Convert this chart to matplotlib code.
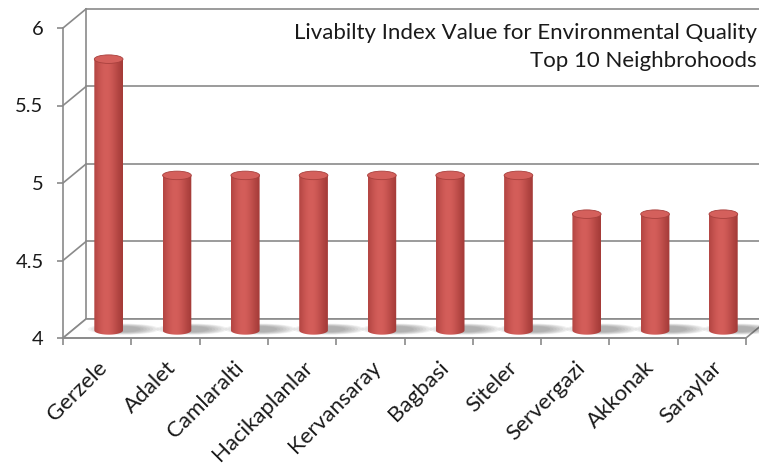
import numpy as np
import matplotlib
matplotlib.use("Agg")
import matplotlib.pyplot as plt
from matplotlib.patches import Ellipse, Polygon
from matplotlib.path import Path

plt.rcParams['font.family'] = ['Lato', 'DejaVu Sans']

# Livability index values, top 10 neighbourhoods
neighborhoods = ["Gerzele", "Adalet", "Camlaralti", "Hacikaplanlar", "Kervansaray",
                 "Bagbasi", "Siteler", "Servergazi", "Akkonak", "Saraylar"]
index_values = [5.75, 5.0, 5.0, 5.0, 5.0, 5.0, 5.0, 4.75, 4.75, 4.75]
y_ticks = [4, 4.5, 5, 5.5, 6]
title_lines = ["Livabilty Index Value for Environmental Quality", "Top 10 Neighbrohoods"]

W, H = 759, 471
fig = plt.figure(figsize=(W / 100, H / 100), dpi=100)
fig.patch.set_facecolor("white")
# front plane of the 3-D box: x 0..10 categories, y 4..6
ax = fig.add_axes([63 / W, (H - 338) / H, 683 / W, 310 / H])
ymin, ymax = 4, 6
n = len(neighborhoods)
ax.set_xlim(0, n)
ax.set_ylim(ymin, ymax)
ax.set_facecolor("none")

GRID = "#8a8a8a"
LW = 1.2
DX = 0.337    # depth offset in category units
DY = 0.1226   # depth offset in value units

# walls: back-wall gridlines, side-wall diagonals, back vertical edge
for v in y_ticks:
    ax.plot([DX, n + DX + 1], [v + DY, v + DY], color=GRID, lw=LW, clip_on=False, zorder=1)
    ax.plot([0, DX], [v, v + DY], color=GRID, lw=LW, clip_on=False, zorder=1)
ax.plot([DX, DX], [ymin + DY, ymax + DY], color=GRID, lw=LW, clip_on=False, zorder=1)

# floor
floor = Polygon([[0, ymin], [n, ymin], [n + DX, ymin + DY], [DX, ymin + DY]], closed=True,
                facecolor="white", edgecolor=GRID, lw=LW, clip_on=False, zorder=1.5)
ax.add_patch(floor)

bar_w = 0.42
ell_h = 0.055
dark = np.array([150, 48, 46]) / 255
light = np.array([212, 94, 90]) / 255
t = np.linspace(0, 1, 64)
g = np.exp(-((t - 0.42) / 0.48) ** 2)
grad = dark[None, :] + (light - dark)[None, :] * g[:, None]
grad_img = grad[None, :, :]

for i, v in enumerate(index_values):
    xc = i + 0.5 + DX / 2
    yb = ymin + DY * 0.4
    yt = v + DY * 0.4
    xl, xr = xc - bar_w / 2, xc + bar_w / 2
    # soft shadow on the floor, falling to the right
    for k in range(7):
        sh = Ellipse((xc + 0.22, yb + 0.008), bar_w * (2.5 - 0.22 * k), ell_h * (1.3 - 0.1 * k),
                     facecolor="#444444", edgecolor="none", alpha=0.07, clip_on=False, zorder=2)
        ax.add_patch(sh)
    # cylinder body with horizontal shading
    ang = np.linspace(np.pi, 2 * np.pi, 40)
    verts = [(xl, yt), (xl, yb)] + [(xc + bar_w / 2 * np.cos(a), yb + ell_h / 2 * np.sin(a)) for a in ang] + \
            [(xr, yt), (xl, yt)]
    body = Path(verts, closed=True)
    im = ax.imshow(grad_img, extent=(xl, xr, yb - ell_h / 2, yt), aspect="auto",
                   interpolation="bilinear", zorder=3)
    im.set_clip_path(body, transform=ax.transData)
    # top cap
    cap = Ellipse((xc, yt), bar_w, ell_h, facecolor="#d4605c", edgecolor="#a8403d", lw=0.6,
                  clip_on=False, zorder=4)
    ax.add_patch(cap)

ax.set_xlim(0, n)
ax.set_ylim(ymin, ymax)

# axes: front left edge and front floor edge
for side in ["top", "right"]:
    ax.spines[side].set_visible(False)
for side in ["left", "bottom"]:
    ax.spines[side].set_color(GRID)
    ax.spines[side].set_linewidth(LW)
    ax.spines[side].set_zorder(5)

ax.set_yticks(y_ticks)
ax.set_yticklabels([f"{v:g}" for v in y_ticks], fontsize=14.5, color="#1a1a1a")
ax.tick_params(axis="y", length=4, width=LW, color=GRID, pad=10)

ax.set_xticks(np.arange(n + 1))
ax.set_xticklabels([])
ax.set_xticks(np.arange(n) + 0.5, minor=True)
ax.set_xticklabels(neighborhoods, minor=True, rotation=45, ha="right", va="top",
                   rotation_mode="anchor", fontsize=16, color="#1a1a1a")
ax.tick_params(axis="x", which="major", length=5, width=LW, color=GRID)
ax.tick_params(axis="x", which="minor", length=0, pad=14)

fig.text(757 / W, 1 - 33 / H, title_lines[0], ha="right", va="center", fontsize=16, color="#1a1a1a")
fig.text(757 / W, 1 - 61 / H, title_lines[1], ha="right", va="center", fontsize=16, color="#1a1a1a")

fig.savefig("out.png", dpi=100)
